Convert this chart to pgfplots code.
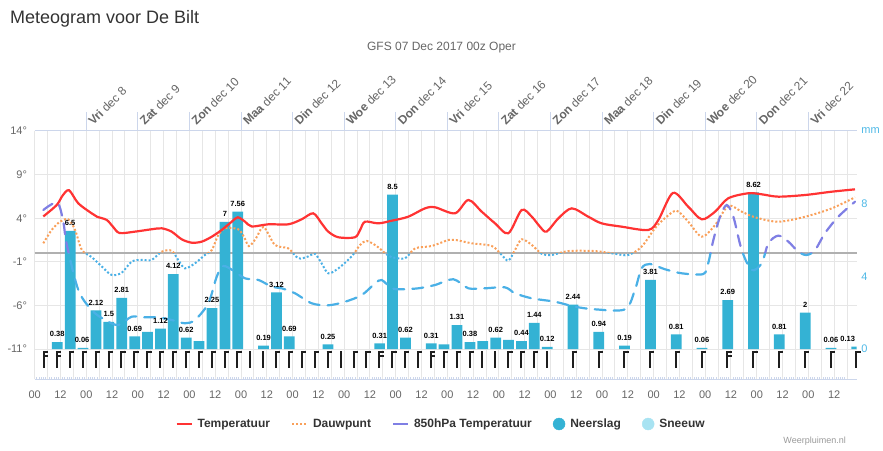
\documentclass[border=0pt]{standalone}
\usepackage{fontspec}
\setmainfont{Liberation Sans}
\usepackage{pgfplots}
\usepackage{pgfplotstable}
\pgfplotsset{compat=1.18}

\definecolor{tred}{HTML}{FF3333}
\definecolor{dorange}{HTML}{F9A05A}
\definecolor{lblue}{HTML}{4AB0E6}
\definecolor{purp}{HTML}{7F7FE4}
\definecolor{barc}{HTML}{34B2D4}
\definecolor{snowc}{HTML}{A8E3F2}
\definecolor{gridc}{HTML}{E6E6E6}
\definecolor{zeroc}{HTML}{B0B0B0}
\definecolor{axisc}{HTML}{CCD6EB}
\definecolor{c666}{HTML}{666666}
\definecolor{c333}{HTML}{333333}
\definecolor{c999}{HTML}{999999}
\definecolor{mmc}{HTML}{4DB8E6}
\definecolor{barbc}{HTML}{1E1E1E}

% temperature (deg C) against hours since 07 Dec 00z
\pgfplotstableread{
h T
4 4.2
10.2 5.5
13 6.6
16 7.2
20.3 5.7
26.5 4.56
29 4.17
33.5 3.8
36.5 3.0
39.5 2.3
46.7 2.46
54.4 2.73
59.1 2.84
63.7 2.46
68.4 1.58
73.1 1.19
77.7 1.31
82.4 1.88
87 2.65
91.7 3.6
94.5 4.1
97.9 3.6
101 3.05
108.7 3.3
118 3.3
124.2 3.87
129.6 4.56
133.5 3.41
136.6 2.46
141.3 1.81
149 1.81
151.4 2.65
153.7 3.6
159.9 3.41
166.1 3.71
173.8 4.17
181.6 5.13
186.3 5.25
195.6 4.56
201.8 6.09
208 4.75
214.2 3.41
220.4 2.27
226.6 4.94
231.3 4.17
235.1 3.03
238.2 2.46
243.7 3.99
249.9 5.13
257.6 4.17
263.8 3.41
273.1 3.03
285.5 2.65
290.2 3.79
297 6.9
304.1 5.32
310.4 3.87
316.6 4.75
322.7 6.28
332.1 6.86
338.3 6.74
346 6.47
358.5 6.66
370.9 7.04
381.7 7.31
}\temptab

\pgfplotstableread{
h T
4 1.12
7.9 2.65
11.8 3.6
15.6 3.87
18.8 2.65
21.9 0.38
26.5 -0.46
31.2 -1.53
35.8 -2.51
40.5 -2.25
45.1 -0.98
49.8 -0.79
54.4 -0.79
59.1 0.16
63.7 0.27
66.8 -0.79
69.9 -1.75
74.6 -1.17
79.2 -0.22
82.4 0.34
85.4 2.06
88.6 2.84
94.7 2.73
97.5 1.8
99.7 0.8
103 1.7
106.5 3.0
111.8 0.93
118 0.54
122.7 -0.6
127.3 -0.38
130.4 -0.08
133.5 -1.17
136.6 -2.32
141.3 -1.75
147.5 -0.38
151.4 0.93
154.5 1.39
159.1 0.81
163 0
166.1 -0.46
172.3 -0.6
177 0.54
184.7 0.81
192.5 1.5
196 1.5
203.4 1.12
212.7 0.81
217.3 -0.22
220.4 -0.87
223.5 0.34
226.6 1.58
231.3 0.93
235.9 -0.08
240.6 -0.22
248.3 0.23
260.7 0.23
270 -0.08
276.2 -0.22
282.4 0.73
288.6 2.84
293.2 3.99
298.7 4.86
304.1 3.6
310.4 1.88
316.6 3.22
322.7 5.4
329 4.75
335.2 4.1
346 3.6
358.5 4.17
370.9 5.13
381.7 6.4
}\dewtab

\pgfplotstableread{
h T
4 4.94
10.5 5.78
13.3 3.6
14.9 1.0
20.3 -4.23
26.5 -6.53
32.7 -7.67
38.9 -8.25
45.1 -7.3
51.3 -7.37
57.5 -7.37
63.7 -7.67
69.9 -8.05
74.6 -7.67
80.8 -5.76
84.7 -2.71
87.8 -1.48
93.2 -2.14
97.9 -2.9
104.2 -3.09
110.3 -3.86
114.9 -4.04
121.1 -4.61
128.9 -5.76
136.6 -5.99
144.4 -5.58
152.2 -4.81
158.4 -3.47
161.5 -3.09
166.1 -4.04
170.8 -4.15
178.5 -4.04
186.3 -3.66
194.8 -3.0
201.8 -4.04
209.5 -4.04
218.8 -3.93
223.5 -4.61
231.3 -5.19
242.1 -5.58
251.4 -6.15
260.7 -6.45
274.7 -6.45
279.3 -4.23
282.4 -1.75
286.3 -1.25
293.2 -1.85
301.1 -2.32
311.1 -2.4
313.4 -1.17
315.8 1.5
318.9 4.17
322 5.51
325.1 4.17
329 0.34
333.6 -1.94
338.3 -1.17
341.4 1.12
346 2.0
350.7 1.31
355.3 0.16
359.2 -0.22
363.1 0.34
367.7 2.27
373.9 4.17
381.7 5.89
}\hpatab

% precipitation (mm), shown label, label shift
\pgfplotstableread{
h mm lbl dx
10.5 0.38 0.38 0
16.5 6.5 6.5 0
22.5 0.06 0.06 -1
28.5 2.12 2.12 0
34.5 1.5 1.5 0
40.5 2.81 2.81 0
46.5 0.69 0.69 0
52.5 0.94 {} 0
58.5 1.12 1.12 0
64.5 4.12 4.12 0
70.5 0.62 0.62 0
76.5 0.44 {} 0
82.5 2.25 2.25 0
88.5 7 7 0
94.5 7.56 7.56 0
106.5 0.19 0.19 0
112.5 3.12 3.12 0
118.5 0.69 0.69 0
136.5 0.25 0.25 0
160.5 0.31 0.31 0
166.5 8.5 8.5 0
172.5 0.62 0.62 0
184.5 0.31 0.31 0
190.5 0.25 {} 0
196.5 1.31 1.31 0
202.5 0.38 0.38 0
208.5 0.44 {} 0
214.5 0.62 0.62 0
220.5 0.5 {} 0
226.5 0.44 0.44 0
232.5 1.44 1.44 0
238.5 0.12 0.12 0
250.5 2.44 2.44 0
262.5 0.94 0.94 0
274.5 0.19 0.19 0
286.5 3.81 3.81 0
298.5 0.81 0.81 0
310.5 0.06 0.06 0
322.5 2.69 2.69 0
334.5 8.62 8.62 0
346.5 0.81 0.81 0
358.5 2 2 0
370.5 0.06 0.06 0
382.5 0.13 0.13 -9
}\raintab

% wind barbs
\pgfdeclareplotmark{barbI}{%
  \pgfsetlinewidth{2pt}%
  \pgfpathmoveto{\pgfpoint{-0.3pt}{-2pt}}\pgfpathlineto{\pgfpoint{-0.3pt}{-19pt}}%
  \pgfusepathqstroke}
\pgfdeclareplotmark{barbG}{%
  \pgfsetlinewidth{2pt}%
  \pgfpathmoveto{\pgfpoint{-0.3pt}{-2pt}}\pgfpathlineto{\pgfpoint{-0.3pt}{-19pt}}%
  \pgfpathmoveto{\pgfpoint{-1.3pt}{-3pt}}\pgfpathlineto{\pgfpoint{4pt}{-3pt}}%
  \pgfusepathqstroke}
\pgfdeclareplotmark{barbF}{%
  \pgfsetlinewidth{2pt}%
  \pgfpathmoveto{\pgfpoint{-0.3pt}{-2pt}}\pgfpathlineto{\pgfpoint{-0.3pt}{-19pt}}%
  \pgfpathmoveto{\pgfpoint{-1.3pt}{-3pt}}\pgfpathlineto{\pgfpoint{4pt}{-3pt}}%
  \pgfpathmoveto{\pgfpoint{-1.3pt}{-6.9pt}}\pgfpathlineto{\pgfpoint{4pt}{-6.9pt}}%
  \pgfusepathqstroke}

\pgfplotsset{
  myframe/.style={at={(34.7pt,71pt)}, anchor=south west, scale only axis,
    width=822pt, height=248pt, xmin=0, xmax=382.5},
  dotstyle/.style={line width=2pt, dash pattern=on 2pt off 2pt, smooth},
  dashstyle/.style={line width=2.2pt, dash pattern=on 11pt off 8pt, line cap=round, smooth},
}

\begin{document}
\begin{tikzpicture}
\useasboundingbox (0,0) rectangle (883pt,450pt);

\node[anchor=base west, font=\fontsize{18}{20}\selectfont, text=c333, inner sep=0pt]
  at (10pt,426.5pt) {Meteogram voor De Bilt};
\node[anchor=base, font=\fontsize{12}{14}\selectfont, text=c666, inner sep=0pt]
  at (441.5pt,399pt) {GFS 07 Dec 2017 00z Oper};
\node[anchor=base east, font=\fontsize{9}{11}\selectfont, text=c999, inner sep=0pt]
  at (846pt,6.5pt) {Weerpluimen.nl};

% A: grid, bottom axis, left axis, legend
\begin{axis}[myframe, ymin=-14.44, ymax=14,
  separate axis lines,
  x axis line style={draw=axisc, line width=1pt},
  y axis line style={draw=none},
  xtick={0,6,...,378},
  xticklabels={00,,12,,00,,12,,00,,12,,00,,12,,00,,12,,00,,12,,00,,12,,00,,12,,00,,12,,00,,12,,00,,12,,00,,12,,00,,12,,00,,12,,00,,12,,00,,12,},
  minor x tick num=5,
  xtick pos=left, ytick pos=left,
  major tick length=0pt, minor tick length=2.5pt,
  minor tick style={draw=axisc, line width=0.8pt},
  xmajorgrids, ymajorgrids,
  major grid style={draw=gridc, line width=1pt},
  ytick={-11,-6,-1,4,9,14},
  yticklabels={-11°,-6°,-1°,4°,9°,14°},
  extra y ticks={0}, extra y tick labels={},
  extra y tick style={grid=major, major grid style={draw=zeroc, line width=1.3pt}},
  tick label style={font=\fontsize{11}{13}\selectfont, text=c666},
  xticklabel style={anchor=base, inner sep=0pt, yshift=-19pt},
  yticklabel style={anchor=east, inner sep=0pt, xshift=-7.5pt},
  legend columns=5,
  legend style={at={(0.4963,-0.1815)}, anchor=center, draw=none, fill=none,
    font=\bfseries\fontsize{12}{14}\selectfont, text=c333,
    nodes={inner xsep=5pt, inner ysep=0pt},
    /tikz/every even column/.append style={column sep=16pt}},
]
\addlegendimage{legend image code/.code={\draw[tred, line width=2pt] (0pt,0pt) -- (15pt,0pt);}}
\addlegendentry{Temperatuur}
\addlegendimage{legend image code/.code={\draw[dorange, line width=2pt, dash pattern=on 2pt off 2pt] (0pt,0pt) -- (15pt,0pt);}}
\addlegendentry{Dauwpunt}
\addlegendimage{legend image code/.code={\draw[purp, line width=2pt] (0pt,0pt) -- (15pt,0pt);}}
\addlegendentry{850hPa Temperatuur}
\addlegendimage{legend image code/.code={\fill[barc] (6pt,0pt) circle (6pt);}}
\addlegendentry{Neerslag}
\addlegendimage{legend image code/.code={\fill[snowc] (6pt,0pt) circle (6pt);}}
\addlegendentry{Sneeuw}
\end{axis}

% B: precipitation bars, right axis
\begin{axis}[myframe, ymin=-1.6512, ymax=12,
  axis line style={draw=none}, xtick=\empty,
  ytick={0,4,8,12}, yticklabels={0,4,8,mm},
  ytick pos=right, yticklabel pos=right,
  major tick length=0pt,
  yticklabel style={font=\fontsize{11}{13}\selectfont, text=mmc, anchor=west, inner sep=0pt, xshift=4.5pt},
  ybar, bar width=5,
]
\addplot[fill=barc, draw=none] table[x=h, y=mm] \raintab;
\end{axis}

% C1: lines above 0
\begin{axis}[at={(34.7pt,196.92pt)}, anchor=south west, scale only axis,
  width=822pt, height=122.08pt, xmin=0, xmax=382.5, ymin=0, ymax=14, hide axis]
\addplot[dorange, dotstyle] table[x=h, y=T] \dewtab;
\addplot[purp, dashstyle] table[x=h, y=T] \hpatab;
\addplot[tred, line width=2.2pt, smooth] table[x=h, y=T] \temptab;
\end{axis}

% C2: lines below 0, wind barbs
\begin{axis}[at={(34.7pt,71pt)}, anchor=south west, scale only axis,
  width=822pt, height=125.92pt, xmin=0, xmax=382.5, ymin=-14.44, ymax=0, hide axis]
\addplot[lblue, dotstyle] table[x=h, y=T] \dewtab;
\addplot[lblue, dashstyle] table[x=h, y=T] \hpatab;
\addplot[tred, line width=2.2pt, smooth] table[x=h, y=T] \temptab;
\addplot[only marks, mark=barbF, mark options={draw=barbc}] coordinates {
(4.5,-11) (10.5,-11) (160.5,-11) (184.5,-11) (322.5,-11)};
\addplot[only marks, mark=barbI, mark options={draw=barbc}] coordinates {
(100.5,-11) (106.5,-11) (142.5,-11) (208.5,-11) (214.5,-11) (238.5,-11)};
\addplot[only marks, mark=barbG, mark options={draw=barbc}] coordinates {
(16.5,-11) (22.5,-11) (28.5,-11) (34.5,-11) (40.5,-11) (46.5,-11) (52.5,-11)
(58.5,-11) (64.5,-11) (70.5,-11) (76.5,-11) (82.5,-11) (88.5,-11) (94.5,-11)
(112.5,-11) (118.5,-11) (124.5,-11) (130.5,-11) (136.5,-11)
(148.5,-11) (154.5,-11) (166.5,-11) (172.5,-11) (178.5,-11)
(190.5,-11) (196.5,-11) (202.5,-11) (220.5,-11) (226.5,-11) (232.5,-11)
(250.5,-11) (262.5,-11) (274.5,-11) (286.5,-11) (298.5,-11) (310.5,-11)
(334.5,-11) (346.5,-11) (358.5,-11) (370.5,-11) (382.5,-11)};
\end{axis}

% E: precipitation labels on top
\begin{axis}[myframe, ymin=-1.6512, ymax=12, hide axis, clip=false, ybar, bar width=5]
\addplot[draw=none, fill=none, nodes near coords, point meta=explicit symbolic,
  visualization depends on={\thisrow{dx} \as \dx},
  nodes near coords style={font=\bfseries\fontsize{7.5}{9}\selectfont, text=black,
    inner sep=0pt, anchor=south, yshift=5pt, xshift=\dx pt}]
  table[x=h, y=mm, meta=lbl] \raintab;
\end{axis}

% D: day labels on top
\begin{axis}[myframe, ymin=0, ymax=1,
  axis line style={draw=none}, ytick=\empty,
  xtick={24,48,...,360},
  xticklabels={\textbf{Vri} dec 8,\textbf{Zat} dec 9,\textbf{Zon} dec 10,\textbf{Maa} dec 11,\textbf{Din} dec 12,\textbf{Woe} dec 13,\textbf{Don} dec 14,\textbf{Vri} dec 15,\textbf{Zat} dec 16,\textbf{Zon} dec 17,\textbf{Maa} dec 18,\textbf{Din} dec 19,\textbf{Woe} dec 20,\textbf{Don} dec 21,\textbf{Vri} dec 22},
  xtick pos=right, xticklabel pos=right, tick align=outside, major tick length=19pt,
  xtick style={draw=axisc, line width=1pt},
  xticklabel style={font=\fontsize{12}{14}\selectfont, text=c666,
    xshift=7pt, yshift=-14.1pt, rotate=45, anchor=base west, inner sep=0pt},
]
\end{axis}
\end{tikzpicture}
\end{document}
